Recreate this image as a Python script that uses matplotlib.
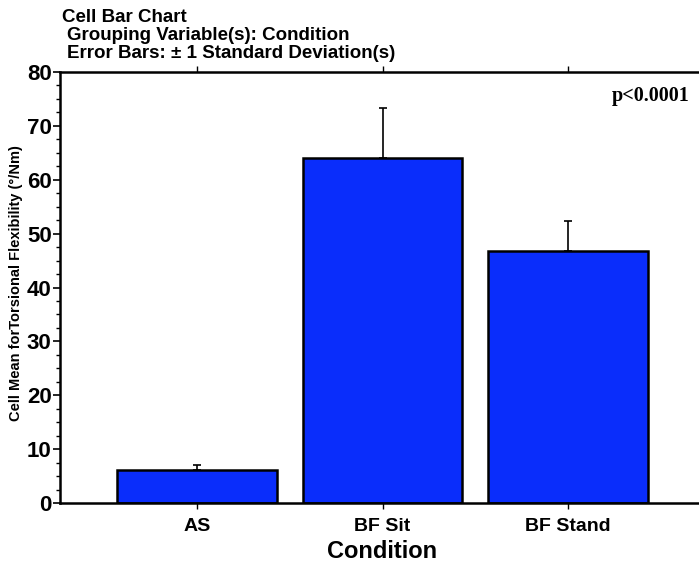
import numpy as np
import matplotlib
matplotlib.use('Agg')
import matplotlib.pyplot as plt
from matplotlib.ticker import MultipleLocator

plt.rcParams['font.family'] = 'Liberation Sans'

conditions = ["AS", "BF Sit", "BF Stand"]
means = [6.1, 64.0, 46.8]
sds = [0.9, 9.3, 5.6]

fig = plt.figure(figsize=(6.99, 5.63), dpi=100)
# axes box in pixels: left 60, top 72, bottom 503, right ~705
ax = fig.add_axes([60 / 699, (563 - 503) / 563, 645 / 699, 431 / 563])

x = np.arange(len(conditions))
ax.bar(x, means, width=0.86, color='#0a2dfb', edgecolor='black', linewidth=1.8, zorder=2)
ax.errorbar(x, means, yerr=[np.zeros(len(sds)), sds], fmt='none', ecolor='black',
            elinewidth=1.2, capsize=3, capthick=1.2, zorder=1)

ax.set_xlim(-0.74, 2.74)
ax.set_ylim(0, 80)
ax.set_xticks(x)
ax.set_xticklabels(conditions, fontsize=14, fontweight='bold')
ax.yaxis.set_major_locator(MultipleLocator(10))
ax.yaxis.set_minor_locator(MultipleLocator(2.5))
ax.set_yticks(np.arange(0, 81, 10))
ax.set_yticklabels([str(v) for v in range(0, 81, 10)], fontsize=16, fontweight='bold')
ax.tick_params(axis='y', which='major', length=5, width=1.2, pad=1)
ax.tick_params(axis='y', which='minor', length=3, width=1.0)
ax.tick_params(axis='x', which='major', length=4, width=1.0, top=True, pad=7)

for side in ['left', 'bottom', 'top']:
    ax.spines[side].set_linewidth(1.8)
ax.spines['right'].set_visible(False)

ax.set_xlabel("Condition", fontsize=17, fontweight='bold', labelpad=3.5)
ax.set_ylabel("Cell Mean forTorsional Flexibility (°/Nm)", fontsize=10.5, fontweight='bold')
ax.yaxis.set_label_coords(-37 / 645, (503 - 283) / 431)

fig.text(62 / 699, 1 - 18 / 563, "Cell Bar Chart", fontsize=13.5, fontweight='bold', va='center')
fig.text(67 / 699, 1 - 36 / 563, "Grouping Variable(s): Condition", fontsize=13.5, fontweight='bold', va='center')
fig.text(67 / 699, 1 - 53 / 563, "Error Bars: ± 1 Standard Deviation(s)", fontsize=13.5, fontweight='bold', va='center')

fig.text(690 / 699, 1 - 96 / 563, "p<0.0001", fontsize=14.5, fontweight='bold',
         family='Liberation Serif', ha='right', va='center')

fig.savefig("out.png", dpi=100)
